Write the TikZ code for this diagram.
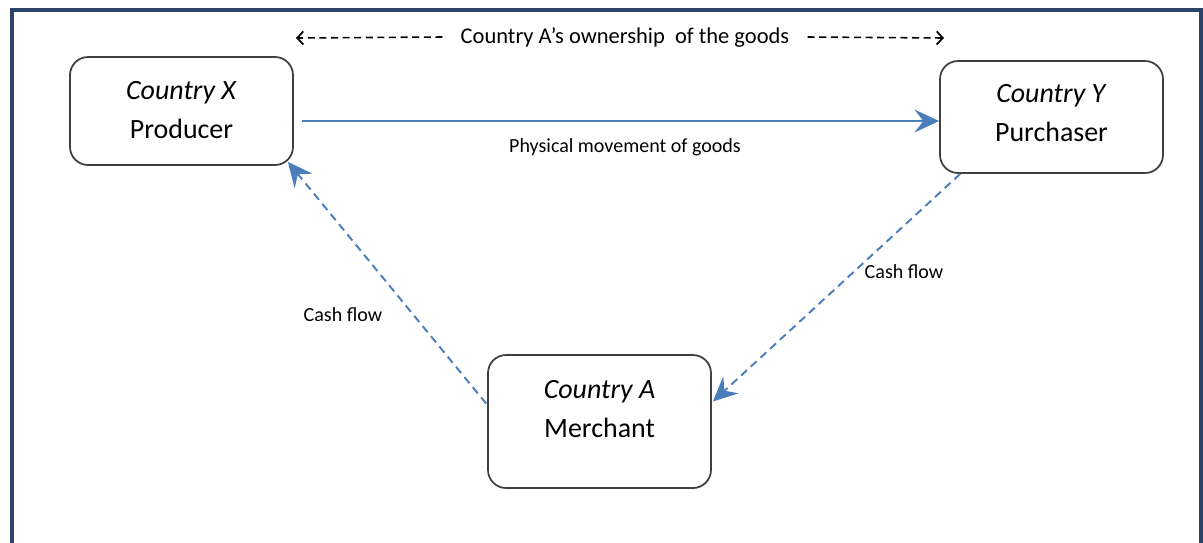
\documentclass[tikz,border=0pt]{standalone}
\usepackage{fontspec}
\setmainfont{Carlito}
\usetikzlibrary{arrows.meta}
\definecolor{frameblue}{RGB}{44,68,104}
\definecolor{flowblue}{RGB}{74,126,187}
\definecolor{boxgray}{RGB}{64,64,64}

\begin{document}
\begin{tikzpicture}[x=0.02cm, y=-0.02cm,
	party/.style={draw=boxgray, line width=1pt, rounded corners=0.36cm,
		minimum width=4.46cm, align=center,
		font=\fontsize{15.9}{22}\selectfont},
	note/.style={font=\fontsize{11.4}{13}\selectfont},
	heading/.style={font=\fontsize{12.8}{15}\selectfont, inner xsep=0.36cm},
	ownership/.style={black, line width=0.9pt, dash pattern=on 4pt off 2.6pt,
		-{Straight Barb[length=3.5pt, width=7.5pt, line width=1pt]}},
	goods/.style={draw=flowblue, line width=1.1pt,
		-{Stealth[length=14pt, width=13pt, inset=5pt]}},
	cash/.style={goods, dash pattern=on 4.5pt off 3pt}]
	
	\useasboundingbox (0,0) rectangle (1203,542);
	\clip (0,0) rectangle (1203,542);
	\draw[frameblue, line width=2.8pt] (12,10) rectangle (1201,620);
	
	\node[party, minimum height=2.16cm, text depth=1.5pt] (producer) at (181.5,111)
		{\textit{Country X}\\Producer};
	\node[party, minimum height=2.24cm, text depth=4.5pt] (purchaser) at (1051.5,117)
		{\textit{Country Y}\\Purchaser};
	\node[party, minimum height=2.66cm, text depth=14.5pt] (merchant) at (599.5,421.5)
		{\textit{Country A}\\Merchant};
	
	\node[heading] (owner) at (625,37) {Country A’s ownership\ \ of the goods};
	\coordinate (ownleft) at (296,38);
	\coordinate (ownright) at (944,38);
	\draw[ownership] (owner.west) -- (ownleft);
	\draw[ownership] (owner.east) -- (ownright);
	
	\draw[goods] ([shift={(8,10)}]producer.east) -- ([shift={(0,4)}]purchaser.west);
	\draw[cash] ([xshift=12]purchaser.south west) -- ([shift={(1,-20)}]merchant.east);
	\draw[cash] ([shift={(-1,-18)}]merchant.west) -- ([shift={(-6,-4)}]producer.south east);
	
	\node[note] (physical) at (625,147) {Physical movement of goods};
	\node[note] (cashright) at (904,272) {Cash flow};
	\node[note] (cashleft) at (343,315) {Cash flow};
\end{tikzpicture}
\end{document}
